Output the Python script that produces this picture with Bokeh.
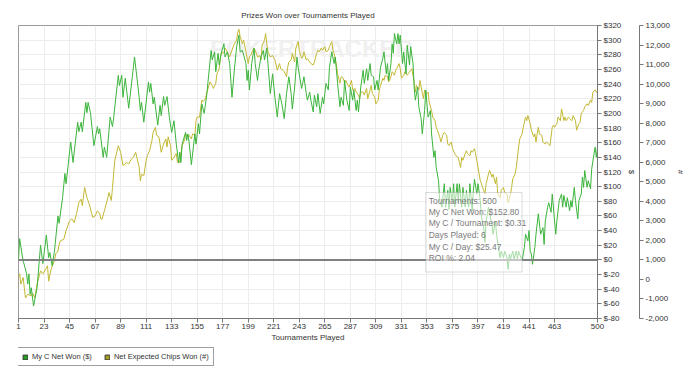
from bokeh.plotting import figure
from bokeh.layouts import column
from bokeh.models import (Range1d, LinearAxis, FixedTicker, CustomJSTickFormatter,
                          NumeralTickFormatter, Span, BoxAnnotation, Label, Legend,
                          LegendItem, ColumnDataSource)
from bokeh.embed import file_html
from bokeh.resources import INLINE

# ---------------- data ----------------
x_ticks = [1, 23, 45, 67, 89, 111, 133, 155, 177, 199, 221, 243, 265, 287, 309,
           331, 353, 375, 397, 419, 441, 463, 500]
dollar_ticks = list(range(-80, 321, 20))
chip_ticks = list(range(-2000, 13001, 1000))

# My C Net Won ($)
green_t = [1, 2, 4, 5, 8, 9, 10, 11, 12, 14,
           17, 20, 22, 25, 27, 28, 30, 32, 35, 36,
           39, 41, 42, 46, 48, 52, 53, 55, 56, 59,
           60, 61, 63, 66, 69, 70, 71, 74, 75, 77,
           80, 82, 83, 87, 88, 90, 91, 93, 96, 101,
           105, 106, 107, 109, 113, 114, 115, 117, 118, 121,
           123, 124, 126, 127, 129, 131, 133, 135, 137, 139,
           140, 141, 142, 145, 146, 147, 148, 150, 153, 154,
           156, 157, 159, 161, 163, 167, 168, 170, 171, 173,
           174, 176, 178, 179, 181, 183, 185, 187, 189, 191,
           192, 194, 197, 198, 199, 200, 202, 204, 205, 207,
           208, 210, 212, 213, 215, 216, 218, 220, 222, 224,
           226, 228, 230, 232, 234, 236, 237, 239, 241, 242,
           245, 247, 249, 250, 252, 253, 255, 256, 258, 259,
           261, 263, 264, 266, 268, 269, 271, 273, 274, 276,
           278, 279, 281, 282, 284, 286, 287, 289, 290, 292,
           293, 294, 296, 298, 299, 301, 302, 304, 305, 307,
           308, 310, 311, 312, 313, 315, 316, 318, 319, 320,
           322, 323, 324, 325, 327, 328, 329, 330, 332, 333,
           335, 336, 338, 339, 341, 342, 343, 345, 346, 348,
           349, 351, 352, 354, 356, 357, 359, 360, 361, 363,
           364, 366, 367, 368, 369, 371, 372, 373, 375, 376,
           377, 379, 380, 381, 383, 384, 386, 387, 389, 390,
           392, 393, 394, 396, 397, 399, 400, 402, 403, 404,
           406, 407, 409, 410, 412, 413, 415, 416, 417, 419,
           420, 422, 423, 424, 425, 427, 428, 430, 431, 432,
           434, 435, 437, 438, 440, 441, 442, 443, 444, 446,
           447, 449, 450, 451, 453, 454, 455, 457, 458, 460,
           461, 463, 464, 465, 467, 469, 470, 471, 473, 474,
           476, 477, 478, 480, 481, 483, 484, 486, 487, 488,
           489, 491, 492, 494, 495, 497, 498, 499, 500]
green_won = [0, 29, 8, -1, -19, -33, -19, -47, -38, -63,
             -38, 20, -5, 34, 3, 10, -8, 12, 60, 50,
             85, 118, 104, 161, 133, 188, 175, 188, 175, 215,
             201, 215, 201, 156, 182, 172, 179, 140, 154, 140,
             195, 182, 194, 252, 238, 252, 222, 248, 207, 277,
             222, 204, 215, 188, 243, 229, 241, 213, 222, 184,
             211, 197, 223, 211, 223, 195, 174, 190, 158, 133,
             147, 133, 158, 174, 163, 172, 161, 130, 172, 158,
             186, 172, 213, 200, 222, 286, 273, 284, 257, 282,
             266, 284, 295, 277, 284, 268, 222, 259, 291, 307,
             284, 286, 268, 245, 259, 232, 268, 289, 268, 245,
             259, 277, 286, 273, 289, 268, 227, 254, 222, 195,
             227, 213, 193, 227, 250, 227, 206, 236, 277, 263,
             234, 250, 227, 218, 229, 218, 202, 225, 209, 227,
             200, 222, 213, 241, 232, 263, 284, 268, 277, 241,
             209, 222, 211, 245, 218, 204, 236, 218, 232, 204,
             218, 202, 236, 259, 241, 261, 245, 268, 252, 250,
             232, 245, 232, 248, 263, 275, 284, 254, 268, 245,
             268, 295, 282, 309, 295, 309, 295, 307, 268, 284,
             254, 293, 266, 291, 268, 236, 218, 236, 209, 193,
             172, 204, 232, 195, 204, 172, 140, 149, 126, 108,
             81, 72, 90, 104, 72, 95, 69, 99, 78, 104,
             72, 104, 78, 104, 72, 99, 72, 95, 72, 104,
             67, 95, 110, 90, 104, 81, 58, 44, 24, 53,
             72, 63, 49, 35, 53, 35, 12, 3, 12, 3,
             12, 3, -13, 8, 1, 12, 1, 12, 1, 12,
             3, -1, 17, 35, 26, 40, 12, 8, -6, 17,
             35, 63, 49, 35, 44, 21, 53, 72, 78, 65,
             90, 53, 35, 53, 81, 90, 72, 88, 72, 85,
             67, 81, 72, 99, 81, 56, 81, 90, 113, 99,
             122, 99, 108, 97, 124, 145, 154, 140, 152.8]

# Net Expected Chips Won (#)
chips_t = [1, 2, 3, 5, 7, 9, 12, 13, 15, 17,
           20, 22, 25, 26, 27, 29, 32, 33, 35, 36,
           37, 40, 42, 45, 47, 49, 51, 53, 55, 56,
           58, 60, 62, 65, 67, 69, 71, 72, 73, 75,
           78, 79, 81, 82, 84, 86, 87, 89, 91, 93,
           94, 96, 98, 100, 102, 103, 105, 106, 107, 109,
           111, 112, 114, 116, 117, 119, 120, 122, 123, 124,
           126, 128, 129, 130, 132, 133, 135, 137, 138, 140,
           142, 144, 145, 147, 148, 150, 151, 153, 154, 155,
           157, 159, 160, 162, 164, 166, 168, 169, 171, 172,
           174, 175, 176, 178, 179, 181, 183, 184, 186, 187,
           189, 190, 191, 192, 194, 195, 197, 199, 200, 201,
           203, 204, 206, 207, 209, 210, 211, 213, 214, 215,
           216, 218, 220, 222, 223, 224, 226, 227, 229, 230,
           232, 233, 234, 236, 237, 239, 240, 242, 243, 245,
           246, 247, 249, 250, 252, 253, 255, 256, 258, 259,
           260, 262, 263, 265, 266, 268, 269, 271, 272, 273,
           275, 276, 278, 279, 281, 282, 283, 285, 286, 288,
           289, 291, 292, 294, 295, 296, 298, 299, 301, 302,
           304, 305, 306, 308, 309, 311, 312, 313, 315, 316,
           317, 319, 320, 322, 323, 325, 326, 327, 329, 330,
           331, 333, 334, 336, 337, 339, 340, 342, 343, 344,
           346, 347, 348, 350, 351, 352, 354, 355, 357, 358,
           360, 361, 362, 364, 365, 367, 368, 370, 371, 372,
           374, 375, 377, 378, 380, 381, 382, 383, 384, 386,
           387, 388, 390, 391, 392, 394, 396, 397, 399, 400,
           401, 403, 404, 406, 407, 409, 410, 412, 413, 414,
           416, 417, 419, 420, 422, 423, 425, 426, 427, 429,
           430, 432, 433, 435, 436, 438, 439, 440, 442, 443,
           445, 446, 447, 448, 449, 450, 452, 453, 455, 456,
           458, 459, 461, 462, 463, 465, 466, 468, 469, 471,
           472, 473, 475, 476, 478, 479, 481, 482, 484, 485,
           486, 488, 489, 491, 492, 494, 495, 496, 498, 500]
chips_won = [100, 290, -240, 100, -950, -760, -840, -690, -950, -240,
             440, 290, 590, 700, -90, 510, 960, 1300, 1450, 1790,
             1980, 2050, 2500, 2990, 3100, 2910, 3360, 3930, 4110, 3780,
             4710, 4190, 3850, 3180, 3250, 3510, 3360, 3100, 3080, 3510,
             4190, 4450, 4040, 4710, 6100, 6590, 6850, 6510, 5840, 5910,
             5990, 5910, 6140, 6250, 6510, 6250, 5730, 5050, 5390, 5310,
             6100, 6330, 6590, 7110, 7530, 7790, 7380, 7300, 6930, 6510,
             6930, 7190, 6780, 7300, 6850, 6100, 6250, 6440, 5990, 5990,
             6850, 7110, 7450, 7300, 7380, 7190, 7450, 7380, 8130, 8310,
             8310, 9180, 9100, 9250, 9700, 10110, 9930, 9780, 10040, 10530,
             10790, 11390, 11650, 11580, 11840, 11650, 11390, 11580, 11910, 12060,
             12250, 12660, 12810, 12440, 12060, 12250, 11650, 11050, 11390, 11460,
             11730, 11840, 11580, 11390, 11460, 11240, 11990, 12250, 12590, 12060,
             11650, 11390, 11460, 11240, 10980, 10710, 11050, 10790, 10710, 10640,
             10380, 10860, 11130, 11240, 11580, 11130, 11840, 12180, 11730, 11310,
             11390, 11650, 11240, 11310, 11130, 11050, 10980, 11130, 11580, 11730,
             11650, 11840, 11730, 11910, 11650, 11730, 11910, 12180, 11730, 11580,
             10980, 10530, 10040, 10380, 10300, 10040, 10190, 9930, 9850, 10190,
             9700, 9780, 9590, 9440, 9250, 9590, 9590, 9440, 9780, 9250,
             9700, 9930, 9510, 9330, 8990, 9180, 9700, 9930, 10300, 10190,
             10450, 10380, 10110, 10380, 10640, 10450, 10710, 10790, 11050, 10790,
             10300, 10450, 10640, 10450, 10530, 10710, 10790, 10110, 9590, 9930,
             9700, 10190, 9850, 9250, 9700, 9440, 9590, 9060, 8650, 8310,
             8130, 7790, 7640, 7300, 7040, 7450, 7530, 7380, 6930, 6850,
             7040, 6700, 6440, 6330, 6250, 5990, 5730, 6250, 6100, 6440,
             6590, 6440, 6330, 6590, 6510, 6700, 6100, 5730, 5050, 4900,
             4710, 4380, 4900, 5390, 5580, 5240, 5390, 4900, 5240, 4380,
             4190, 4560, 4710, 4450, 4380, 3930, 4380, 4710, 5160, 5390,
             5730, 6780, 7190, 7450, 7790, 8310, 8130, 8390, 7980, 7640,
             7300, 7450, 7040, 7450, 7790, 7450, 7380, 7040, 6930, 7040,
             6930, 6850, 7790, 7900, 7790, 7980, 8310, 8130, 8730, 8130,
             8310, 8130, 8310, 8240, 8130, 8390, 8130, 7640, 7980, 8050,
             8500, 8650, 8840, 8990, 8910, 9180, 9060, 9590, 9700, 9510]

series_names = ["My C Net Won ($)", "Net Expected Chips Won (#)"]
tooltip_lines = ["Tournaments: 500", "My C Net Won: $152.80", "My C / Tournament: $0.31",
                 "Days Played: 6", "My C / Day: $25.47", "ROI %: 2.04"]

FONT = "Liberation Sans"
GREEN = "#3cb43c"
OLIVE = "#c2b834"

p = figure(frame_width=579, frame_height=293,
           x_range=Range1d(1, 500), y_range=Range1d(-80, 320),
           y_axis_location="right", output_backend="svg", toolbar_location=None,
           min_border_left=18, min_border_right=4, min_border_top=25, min_border_bottom=0,
           background_fill_color="white", border_fill_color="white")
p.extra_y_ranges = {"chips": Range1d(-2000, 13000)}

p.title.text = "Prizes Won over Tournaments Played"
p.title.align = "center"
p.title.vertical_align = "middle"
p.title.text_font = FONT
p.title.text_font_size = "8px"
p.title.text_font_style = "normal"
p.title.text_color = "#333333"

p.outline_line_color = "#9a9a9a"

# watermark
wm = Label(x=166, y=289, text="POKERTRACKER", text_font=FONT, text_font_size="24px",
           text_font_style="bold", text_color="#f0f0f0", text_baseline="middle", level="underlay")
p.add_layout(wm)

# grids
p.xgrid.ticker = FixedTicker(ticks=x_ticks)
p.ygrid.ticker = FixedTicker(ticks=dollar_ticks)
p.grid.grid_line_color = "#ececec"

# axes
def style_axis(ax):
    ax.axis_line_color = "#777777"
    ax.major_tick_line_color = "#777777"
    ax.major_tick_out = 4
    ax.major_tick_in = 0
    ax.minor_tick_out = 0
    ax.minor_tick_in = 0
    ax.major_label_text_font = FONT
    ax.major_label_text_font_size = "8px"
    ax.major_label_text_color = "#333333"
    ax.major_label_standoff = 2
    ax.axis_label_text_font = FONT
    ax.axis_label_text_font_size = "8px"
    ax.axis_label_text_font_style = "normal"
    ax.axis_label_text_color = "#333333"
    ax.axis_label_standoff = 3

xa = p.xaxis[0]
xa.ticker = FixedTicker(ticks=x_ticks)
xa.axis_label = "Tournaments Played"
style_axis(xa)
xa.major_label_standoff = 1
xa.axis_label_standoff = 1

ya = p.yaxis[0]
ya.ticker = FixedTicker(ticks=dollar_ticks)
ya.formatter = CustomJSTickFormatter(code="return '$' + tick;")
ya.axis_label = "$"
style_axis(ya)

ya2 = LinearAxis(y_range_name="chips", ticker=FixedTicker(ticks=chip_ticks),
                 formatter=NumeralTickFormatter(format="0,0"), axis_label="#")
style_axis(ya2)
p.add_layout(ya2, "right")

# lines
src_g = ColumnDataSource(dict(t=green_t, v=green_won))
src_c = ColumnDataSource(dict(t=chips_t, v=chips_won))
p.line("t", "v", source=src_c, line_color=OLIVE, line_width=1, y_range_name="chips")
p.line("t", "v", source=src_g, line_color=GREEN, line_width=1)

# zero line
p.add_layout(Span(location=0, dimension="width", line_color="#808080", line_width=2))

# tooltip box
tip = BoxAnnotation(left=352, right=435, top=92, bottom=-16.5,
                    fill_color="white", fill_alpha=0.55,
                    line_color="#8c8c8c", line_width=1)
p.add_layout(tip)
tip_y = [81, 66, 50, 34, 18, 2]
for txt, yy in zip(tooltip_lines, tip_y):
    p.add_layout(Label(x=354.5, y=yy, text=txt, text_font=FONT, text_font_size="8.5px",
                       text_color="#7a7a7a", text_baseline="middle"))

# ---- legend strip (separate small figure below the chart) ----
pl = figure(width=690, height=25, x_range=Range1d(0, 1), y_range=Range1d(0, 1),
            output_backend="svg", toolbar_location=None,
            min_border_left=0, min_border_right=0, min_border_top=0, min_border_bottom=0)
pl.axis.visible = False
pl.grid.visible = False
pl.outline_line_color = None
# swatch glyphs kept outside the strip's visible range; only their legend squares show
off = ColumnDataSource(dict(l=[5], r=[6], b=[5], t=[6]))
lg = pl.quad(left="l", right="r", bottom="b", top="t", source=off,
             fill_color="#22a022", line_color="#333333")
lo = pl.quad(left="l", right="r", bottom="b", top="t", source=off,
             fill_color="#a8a020", line_color="#333333")
legend = Legend(items=[LegendItem(label=series_names[0], renderers=[lg]),
                       LegendItem(label=series_names[1], renderers=[lo])],
                orientation="horizontal", location=(-1, 3),
                label_text_font=FONT, label_text_font_size="7.5px", label_text_color="#333333",
                glyph_width=6, glyph_height=6, label_standoff=4, spacing=12,
                padding=4, margin=0, border_line_color="#404040", border_line_width=1,
                label_height=8)
pl.add_layout(legend)

layout = column(p, pl, spacing=0)
open("out.html", "w").write(file_html(layout, INLINE))
